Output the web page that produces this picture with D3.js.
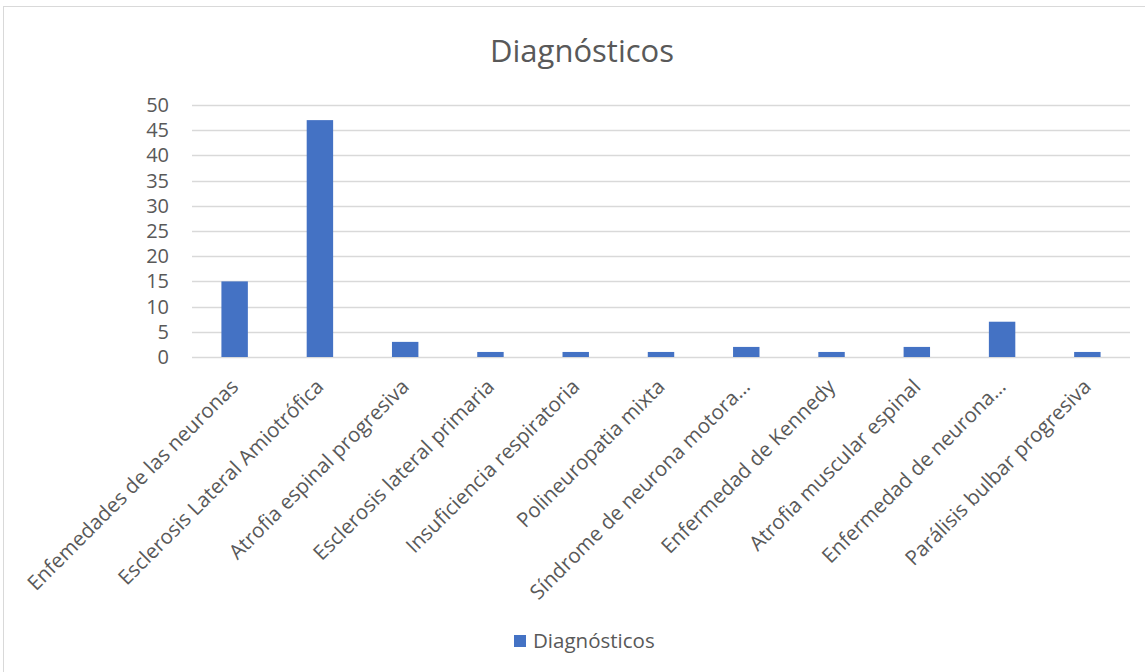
<!DOCTYPE html>
<html>
<head>
<meta charset="utf-8">
<script src="https://cdn.jsdelivr.net/npm/d3@7"></script>
<style>
  body { margin: 0; background: #fff; }
  #chart { width: 1145px; height: 672px; }
  text { font-family: "Open Sans", "Noto Sans", sans-serif; fill: #595959; }
</style>
</head>
<body>
<div id="chart"></div>
<script>
const categories = [
  "Enfemedades de las neuronas",
  "Esclerosis Lateral Amiotrófica",
  "Atrofia espinal progresiva",
  "Esclerosis lateral primaria",
  "Insuficiencia respiratoria",
  "Polineuropatia mixta",
  "Síndrome de neurona motora…",
  "Enfermedad de Kennedy",
  "Atrofia muscular espinal",
  "Enfermedad de neurona…",
  "Parálisis bulbar progresiva"
];
const values = [15, 47, 3, 1, 1, 1, 2, 1, 2, 7, 1];
const yTicks = [0, 5, 10, 15, 20, 25, 30, 35, 40, 45, 50];
const seriesName = "Diagnósticos";

const W = 1145, H = 672;
const margin = { top: 105, right: 15, bottom: 315, left: 192 };
const innerW = W - margin.left - margin.right;
const innerH = H - margin.top - margin.bottom;

const svg = d3.select("#chart").append("svg")
  .attr("width", W)
  .attr("height", H);

// chart frame
svg.append("rect")
  .attr("x", 3.5).attr("y", 6.5)
  .attr("width", W + 10).attr("height", H + 10)
  .attr("fill", "none")
  .attr("stroke", "#d9d9d9");

// title
svg.append("text")
  .attr("x", 582).attr("y", 62)
  .attr("text-anchor", "middle")
  .style("font-size", "31px")
  .text(seriesName);

const g = svg.append("g")
  .attr("transform", `translate(${margin.left},${margin.top})`);

const x = d3.scaleBand()
  .domain(categories)
  .range([0, innerW])
  .paddingInner(0.69)
  .paddingOuter(0.345);

const y = d3.scaleLinear()
  .domain([0, 50])
  .range([innerH, 0]);

// gridlines
g.append("g")
  .selectAll("line")
  .data(yTicks)
  .enter().append("line")
    .attr("x1", 0).attr("x2", innerW)
    .attr("y1", d => Math.round(y(d)) + 0.5)
    .attr("y2", d => Math.round(y(d)) + 0.5)
    .attr("stroke", "#d9d9d9")
    .attr("stroke-width", 1.5);

// y axis
const yAxis = g.append("g")
  .call(d3.axisLeft(y).tickValues(yTicks).tickSize(0).tickPadding(23));
yAxis.select(".domain").remove();
yAxis.selectAll("text")
  .style("font-size", "20px")
  .style("font-family", "'Open Sans', sans-serif")
  .attr("fill", "#595959");

// bars
g.selectAll("rect.bar")
  .data(values)
  .enter().append("rect")
    .attr("class", "bar")
    .attr("x", (d, i) => x(categories[i]))
    .attr("y", d => y(d))
    .attr("width", x.bandwidth())
    .attr("height", d => innerH - y(d))
    .attr("fill", "#4472c4");

// x axis labels
const xAxis = g.append("g")
  .attr("transform", `translate(0,${innerH})`)
  .call(d3.axisBottom(x).tickSize(0).tickPadding(0));
xAxis.select(".domain").remove();
xAxis.selectAll("text")
  .style("font-size", "20.5px")
  .style("font-family", "'Open Sans', sans-serif")
  .attr("fill", "#595959")
  .attr("text-anchor", "end")
  .attr("dy", "0")
  .attr("transform", "translate(5,31) rotate(-45)");

// legend
const legend = svg.append("g")
  .attr("transform", "translate(514,635)");
legend.append("rect")
  .attr("width", 12).attr("height", 12)
  .attr("fill", "#4472c4");
legend.append("text")
  .attr("x", 19).attr("y", 13)
  .style("font-size", "20.5px")
  .text(seriesName);
</script>
</body>
</html>
